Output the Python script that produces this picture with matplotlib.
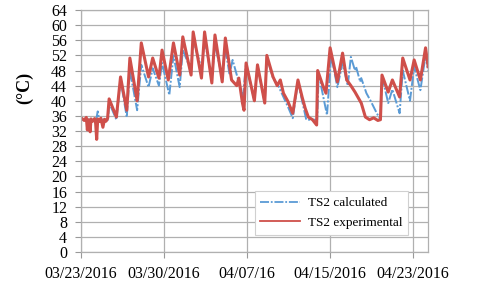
import matplotlib.pyplot as plt

plt.rcParams['font.family'] = ['Liberation Serif', 'DejaVu Serif']

# x positions in days after 03/23/2016
tick_days = [0, 8, 16, 24, 32]
tick_labels = ["03/23/2016", "03/30/2016", "04/07/16", "04/15/2016", "04/23/2016"]
y_ticks = list(range(0, 65, 4))

# TS2 experimental (peaks and troughs)
exp_days = [0, 0.3, 0.5, 0.6, 0.7, 0.87, 0.95, 1.1, 1.3, 1.4, 1.5, 1.6, 1.75, 1.9, 2.1, 2.25, 2.4, 2.55,
            2.7, 3.4, 3.8, 4.4, 4.7, 5.4, 5.8, 6.5, 6.9, 7.5, 7.8, 8.4, 8.9, 9.5, 9.8, 10.6, 10.8,
            11.6, 11.9, 12.6, 12.9, 13.6, 13.9, 14.5, 15.0, 15.2, 15.55, 15.7, 15.9, 16.7, 17.0,
            17.7, 17.9, 18.5, 18.9, 19.2, 19.5, 19.9, 20.4, 20.9, 21.3, 21.6, 21.9, 22.3, 22.7,
            22.8, 23.3, 23.6, 24.0, 24.7, 25.2, 25.6, 26.0, 26.4, 27.0, 27.4, 27.8, 28.2, 28.6,
            28.85, 29.0, 29.6, 30.0, 30.7, 31.0, 31.7, 32.1, 32.7, 33.2, 33.45]
exp_vals = [35.5, 34.8, 35.6, 32.3, 35.0, 31.8, 35.2, 34.6, 35.3, 34.0, 29.8, 35.2, 34.5, 35.4, 33.0, 35.1, 34.6, 35.3,
            40.5, 35.7, 46.3, 37.5, 51.3, 40.0, 55.3, 46.3, 51.3, 46.0, 53.4, 45.5, 55.3, 46.8, 56.9, 46.8, 58.2,
            46.0, 58.2, 44.7, 57.4, 45.0, 56.6, 45.5, 44.0, 46.0, 39.4, 37.5, 50.0, 40.0, 49.5,
            39.4, 52.0, 46.3, 44.0, 45.5, 42.0, 40.0, 36.7, 45.5, 41.0, 38.0, 35.7, 35.0, 33.6,
            48.0, 44.0, 42.0, 54.0, 45.0, 52.6, 45.5, 44.0, 42.3, 39.4, 35.7, 35.0, 35.5, 34.8,
            35.0, 46.8, 42.3, 45.5, 41.0, 51.3, 45.5, 50.8, 45.5, 54.0, 49.0]

# TS2 calculated
calc_days = [0, 1.45, 1.6, 1.75, 2.6, 2.7, 3.4, 3.8, 4.4, 4.7, 5.4, 5.8, 6.5, 6.9, 7.5, 7.8, 8.5, 8.9,
             9.5, 9.8, 10.6, 10.8, 11.6, 11.9, 12.6, 12.9, 13.6, 13.9, 14.3, 14.6, 15.6, 15.9, 16.7,
             17.0, 17.7, 17.9, 18.5, 19.0, 19.5, 20.0, 20.4, 20.9, 21.7, 22.2, 22.75, 22.9, 23.7,
             24.1, 24.7, 25.2, 25.7, 26.0, 26.4, 26.5, 26.9, 27.0, 27.5, 27.9, 28.5, 28.85, 29.0,
             29.6, 30.0, 30.7, 31.0, 31.7, 32.1, 32.7, 33.2, 33.45]
calc_vals = [35.0, 35.0, 37.2, 35.0, 35.0, 39.5, 35.0, 45.5, 35.7, 48.0, 37.5, 49.5, 43.6, 48.6, 44.0, 50.0, 41.5, 52.0,
             43.6, 53.4, 48.0, 56.0, 48.6, 56.0, 46.0, 55.0, 46.0, 54.0, 47.0, 50.8, 41.0, 50.0, 40.0,
             49.5, 39.4, 51.5, 46.0, 44.0, 41.0, 38.0, 35.4, 45.0, 35.0, 35.0, 35.0, 47.0, 36.2,
             52.0, 43.6, 50.0, 44.0, 51.6, 48.0, 49.0, 45.0, 46.0, 42.0, 40.0, 36.7, 35.0, 46.5,
             39.4, 43.0, 36.7, 48.0, 40.0, 49.0, 42.8, 52.0, 48.0]

fig = plt.figure(figsize=(4.8, 3.03), dpi=100)
ax = fig.add_axes([0.169, 0.168, 0.723, 0.799])

ax.plot(calc_days, calc_vals, color='#5b9bd5', lw=1.4, ls=(0, (5, 1, 1, 1)), label='TS2 calculated')
ax.plot(exp_days, exp_vals, color='#cf4f4a', lw=2.2, label='TS2 experimental')

ax.set_xlim(0, 33.45)
ax.set_ylim(0, 64)
ax.set_xticks(tick_days)
ax.set_xticklabels(tick_labels)
ax.set_yticks(y_ticks)
ax.tick_params(axis='both', labelsize=11.5, color='#999999', length=4, width=0.8)
ax.tick_params(axis='y', pad=6)
ax.tick_params(axis='x', pad=6)

ax.grid(True, color='#b0b0b0', lw=0.9)
ax.set_axisbelow(True)
for sp in ax.spines.values():
    sp.set_color('#b0b0b0')
    sp.set_linewidth(0.9)

fig.text(0.052, 0.71, '(°C)', rotation=90, ha='center', va='center', fontsize=13, fontweight='bold')

leg = ax.legend(loc='lower right', bbox_to_anchor=(0.962, 0.045), fontsize=9.5, handlelength=3.0,
                handletextpad=0.6, fancybox=False, framealpha=1, borderpad=0.45, labelspacing=0.55)
leg.get_frame().set_edgecolor('#d0d0d0')
leg.get_frame().set_linewidth(0.8)
for line in leg.get_lines():
    line.set_linewidth(1.3)

fig.savefig('out.png', dpi=100)
